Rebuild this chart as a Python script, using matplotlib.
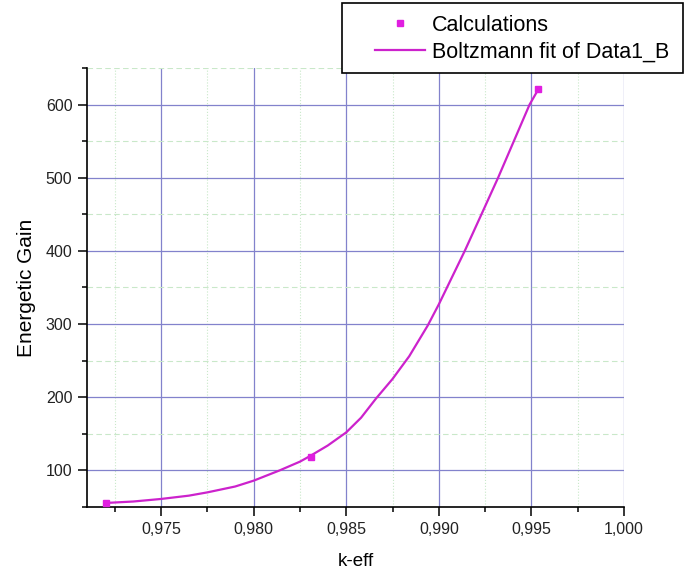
import matplotlib
matplotlib.use("Agg")
import matplotlib.pyplot as plt
from matplotlib.ticker import MultipleLocator, FuncFormatter
from matplotlib.patches import Rectangle

plt.rcParams["font.family"] = ["Liberation Sans", "DejaVu Sans"]

# measured points
k_eff = [0.97204, 0.98308, 0.99536]
gain = [55.4, 119.0, 621.0]

# fit curve
fit_k = [0.9720, 0.9735, 0.9750, 0.9765, 0.9775, 0.9790, 0.9800, 0.9814,
         0.9825, 0.9830, 0.9840, 0.9850, 0.9858, 0.9866, 0.9875, 0.9884,
         0.9894, 0.9900, 0.9914, 0.9925, 0.9932, 0.9949, 0.9954]
fit_gain = [55.5, 57.5, 61, 65.5, 70, 78, 86, 100,
            112, 119, 134, 152, 172, 198, 225, 256,
            298, 327, 400, 461, 500, 600, 622]

x_ticks = [0.975, 0.980, 0.985, 0.990, 0.995, 1.000]
y_ticks = [100, 200, 300, 400, 500, 600]

fit_color = "#cc22cc"
pt_color = "#e01ee0"

fig = plt.figure(figsize=(6.85, 5.74), dpi=100)
ax = fig.add_axes([87 / 685, 1 - 507 / 574, 537 / 685, 439 / 574])

ax.plot(fit_k, fit_gain, color=fit_color, lw=1.6, zorder=3,
        label="Boltzmann fit of Data1_B")
ax.plot(k_eff, gain, ls="none", marker="s", ms=4, color=pt_color,
        zorder=4, label="Calculations")

ax.set_xlim(0.971, 1.0)
ax.set_ylim(50, 650)
ax.set_xticks(x_ticks)
ax.set_yticks(y_ticks)
ax.xaxis.set_minor_locator(MultipleLocator(0.0025))
ax.yaxis.set_minor_locator(MultipleLocator(50))
ax.xaxis.set_major_formatter(FuncFormatter(lambda v, p: f"{v:.3f}".replace(".", ",")))

ax.grid(which="major", color="#8282cc", lw=0.9)
ax.grid(which="minor", axis="x", color="#c9e8c9", lw=0.8, ls=":")
ax.grid(which="minor", axis="y", color="#c9e8c9", lw=0.8, ls=(0, (5, 3)))
ax.set_axisbelow(True)

for side in ["top", "right"]:
    ax.spines[side].set_visible(False)
for side in ["left", "bottom"]:
    ax.spines[side].set_linewidth(1.2)

ax.tick_params(which="major", length=6.5, width=1.1, labelsize=11.5,
               labelcolor="#222222", pad=4)
ax.tick_params(which="minor", length=3.5, width=1.1)

ax.set_xlabel("k-eff", fontsize=13.5, labelpad=12)
ax.set_ylabel("Energetic Gain", fontsize=15, labelpad=7)

# legend box sits on top of the plot, partly outside it
fig.add_artist(Rectangle((342 / 685, 1 - 73 / 574), 341 / 685, 70 / 574,
                         transform=fig.transFigure, facecolor="white",
                         edgecolor="black", lw=1.2, zorder=4))
h, l = ax.get_legend_handles_labels()
fig.legend([h[1], h[0]], [l[1], l[0]], loc="center left",
           bbox_to_anchor=(375 / 685, 1 - 38.5 / 574), frameon=False,
           fontsize=15.5, handlelength=2.3, handletextpad=0.35,
           borderpad=0, borderaxespad=0, labelspacing=0.25, markerscale=1.2)

fig.savefig("out.png", dpi=100)
